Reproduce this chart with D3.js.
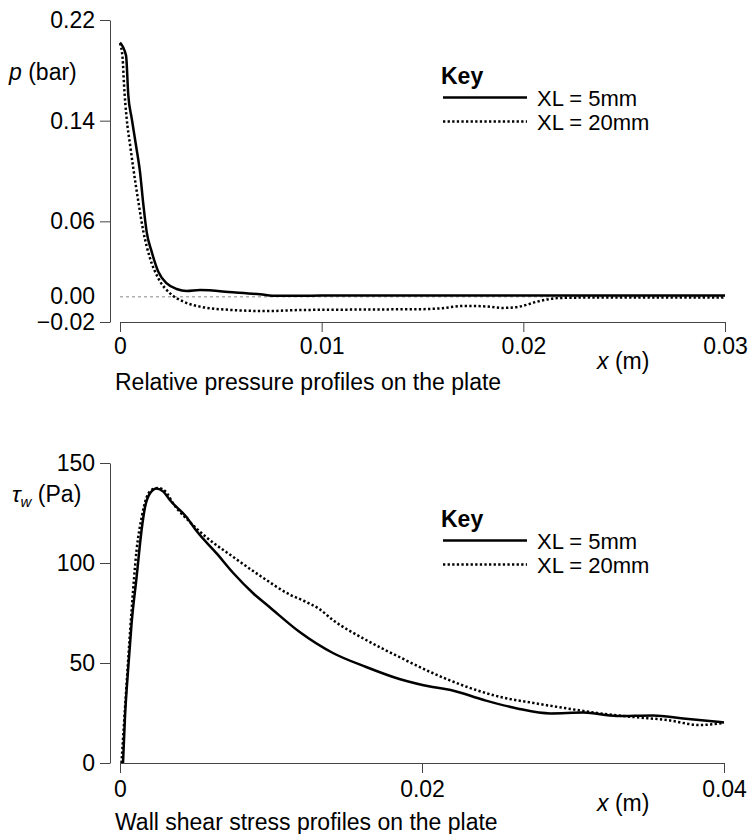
<!DOCTYPE html>
<html>
<head>
<meta charset="utf-8">
<script src="https://cdn.jsdelivr.net/npm/d3@7"></script>
<style>
  body { margin: 0; background: #fff; }
  svg text { font-family: "Liberation Sans", Arial, Helvetica, sans-serif; fill: #000; }
</style>
</head>
<body>
<svg id="chart" width="748" height="834"></svg>
<script>
"use strict"

// relative pressure on the plate (bar) vs x (m)
const pressX5  = [0, 0.0003, 0.00041, 0.00058, 0.00079, 0.00099, 0.00116, 0.00132, 0.00157, 0.0019, 0.00232, 0.00281, 0.00331, 0.00397, 0.0056, 0.00694, 0.00777, 0.0089, 0.010, 0.015, 0.020, 0.025, 0.030]
const pressXL5 = [0.202, 0.1917, 0.1604, 0.1419, 0.1207, 0.0995, 0.073, 0.0518, 0.0359, 0.020, 0.0107, 0.0062, 0.0046, 0.0054, 0.0036, 0.002, 0.0008, 0.0008, 0.001, 0.0011, 0.0011, 0.0011, 0.0011]

const pressX20  = [0, 0.00013, 0.0002, 0.00033, 0.0005, 0.00066, 0.00091, 0.00116, 0.00149, 0.0019, 0.00248, 0.00314, 0.00397, 0.0056, 0.00727, 0.0089, 0.011, 0.013, 0.015, 0.016, 0.017, 0.018, 0.019, 0.0198, 0.0207, 0.0217, 0.023, 0.025, 0.030]
const pressXL20 = [0.2015, 0.1896, 0.1684, 0.1419, 0.1207, 0.1021, 0.0757, 0.0518, 0.0306, 0.0147, 0.0028, -0.0038, -0.0078, -0.0105, -0.0113, -0.0105, -0.0102, -0.0100, -0.0098, -0.0090, -0.0072, -0.0075, -0.0088, -0.0078, -0.0038, -0.0010, -0.0006, -0.0006, -0.0006]

// wall shear stress (Pa) vs x (m)
const shearX5  = [0.0002, 0.00033, 0.00055, 0.00077, 0.0011, 0.00143, 0.00166, 0.002, 0.00243, 0.00287, 0.0033, 0.0044, 0.0051, 0.0064, 0.0075, 0.0088, 0.0099, 0.0119, 0.0141, 0.0163, 0.0185, 0.0207, 0.0219, 0.0241, 0.0263, 0.0285, 0.0307, 0.0329, 0.0353, 0.0373, 0.040]
const shearXL5 = [0, 23, 48, 70, 93, 116.5, 128, 135, 137.3, 135.7, 131.5, 123, 115.7, 104.8, 95, 85, 78, 65.5, 55, 48, 42, 38, 36.5, 31.5, 27.3, 24.8, 25.2, 23.5, 23.8, 22.3, 20.3]

const shearX20  = [0.0001, 0.00044, 0.00077, 0.0011, 0.00144, 0.00177, 0.0022, 0.00254, 0.0031, 0.0035, 0.0046, 0.0057, 0.0075, 0.0093, 0.0113, 0.0122, 0.0132, 0.0141, 0.0163, 0.0185, 0.0207, 0.023, 0.0252, 0.0274, 0.0296, 0.0318, 0.034, 0.0362, 0.0384, 0.040]
const shearXL20 = [0, 40, 76.5, 106.5, 123, 133, 137, 137.5, 135, 130, 120.7, 113, 103, 93.5, 84, 81, 77, 71.5, 61.5, 53, 45, 38, 33, 30, 27.3, 24.8, 23, 21.5, 19, 20]

const pressYTicks = [-0.02, 0.06, 0.14, 0.22]
const pressXTicks = [0, 0.01, 0.02, 0.03]
const shearYTicks = [0, 50, 100, 150]
const shearXTicks = [0, 0.02, 0.04]
const keyLabels   = ["XL = 5mm", "XL = 20mm"]

const svg = d3.select("#chart")
const FS = 23
const KFS = 22
const DOT = "2.3,2.3"

const fmtX = d => d === 0 ? "0" : d3.format(".2f")(d)

function axes(g, x, y, xTicks, yTicks, fmtY, xPad) {
    const [y0] = y.range()
    const ya = g.append("g").attr("transform", "translate(110,0)")
        .call(d3.axisLeft(y).tickValues(yTicks).tickFormat(fmtY).tickSize(10).tickSizeOuter(0).tickPadding(5))
    const xa = g.append("g").attr("transform", `translate(0,${y0})`)
        .call(d3.axisBottom(x).tickValues(xTicks).tickFormat(fmtX).tickSize(10).tickSizeOuter(0).tickPadding(xPad))

    for (const a of [ya, xa]) {
        a.attr("font-size", FS).attr("font-family", null)
        a.selectAll("path, line").attr("stroke", "#444")
        a.selectAll("text").attr("fill", "#000")
    }
}

function series(g, x, y, xs, ys, dashed) {
    const line = d3.line().x(d => x(d[0])).y(d => y(d[1])).curve(d3.curveMonotoneX)
    g.append("path")
        .datum(d3.zip(xs, ys))
        .attr("d", line)
        .attr("fill", "none")
        .attr("stroke", "#000")
        .attr("stroke-width", 2.5)
        .attr("stroke-dasharray", dashed ? DOT : null)
}

function key(g, base) {
    g.append("text").attr("x", 441).attr("y", base).attr("font-size", FS).attr("font-weight", "bold").text("Key")
    keyLabels.forEach((t, i) => {
        const yy = base + 13.5 + i * 24
        g.append("line").attr("x1", 443).attr("x2", 527).attr("y1", yy).attr("y2", yy)
            .attr("stroke", "#000").attr("stroke-width", 2.5).attr("stroke-dasharray", i ? DOT : null)
        g.append("text").attr("x", 537).attr("y", yy).attr("dy", "0.4em").attr("font-size", KFS).text(t)
    })
}

function xlabel(g, yy) {
    const t = g.append("text").attr("x", 597).attr("y", yy).attr("font-size", FS)
    t.append("tspan").attr("font-style", "italic").text("x")
    t.append("tspan").text(" (m)")
}

// --- pressure panel
{
    const g = svg.append("g")
    const x = d3.scaleLinear([0, 0.03], [120, 725])
    const y = d3.scaleLinear([-0.02, 0.22], [322, 20])

    axes(g, x, y, pressXTicks, pressYTicks, d3.format(".2f"), 6)

    g.append("line").attr("x1", x(0)).attr("x2", x(0.03)).attr("y1", y(0)).attr("y2", y(0))
        .attr("stroke", "#888").attr("stroke-width", 1).attr("stroke-dasharray", "3,3")
    g.append("text").attr("x", 95).attr("y", y(0)).attr("dy", "0.32em").attr("text-anchor", "end")
        .attr("font-size", FS).text(d3.format(".2f")(0))

    series(g, x, y, pressX5, pressXL5, false)
    series(g, x, y, pressX20, pressXL20, true)

    const yl = g.append("text").attr("x", 9).attr("y", 80).attr("font-size", FS)
    yl.append("tspan").attr("font-style", "italic").text("p")
    yl.append("tspan").text(" (bar)")

    xlabel(g, 369)

    g.append("text").attr("x", 115).attr("y", 390).attr("font-size", FS).text("Relative pressure profiles on the plate")

    key(g, 84)
}

// --- wall shear panel
{
    const g = svg.append("g")
    const x = d3.scaleLinear([0, 0.04], [120, 724])
    const y = d3.scaleLinear([0, 150], [763, 463])

    axes(g, x, y, shearXTicks, shearYTicks, d3.format("d"), 8)

    series(g, x, y, shearX5, shearXL5, false)
    series(g, x, y, shearX20, shearXL20, true)

    const yl = g.append("text").attr("x", 12).attr("y", 502).attr("font-size", FS)
    yl.append("tspan").attr("font-style", "italic").text("τ")
    yl.append("tspan").attr("font-style", "italic").attr("font-size", FS - 8).attr("dy", 5).text("w")
    yl.append("tspan").attr("dy", -5).text(" (Pa)")

    xlabel(g, 811)

    g.append("text").attr("x", 115).attr("y", 830).attr("font-size", FS).text("Wall shear stress profiles on the plate")

    key(g, 527)
}
</script>
</body>
</html>
